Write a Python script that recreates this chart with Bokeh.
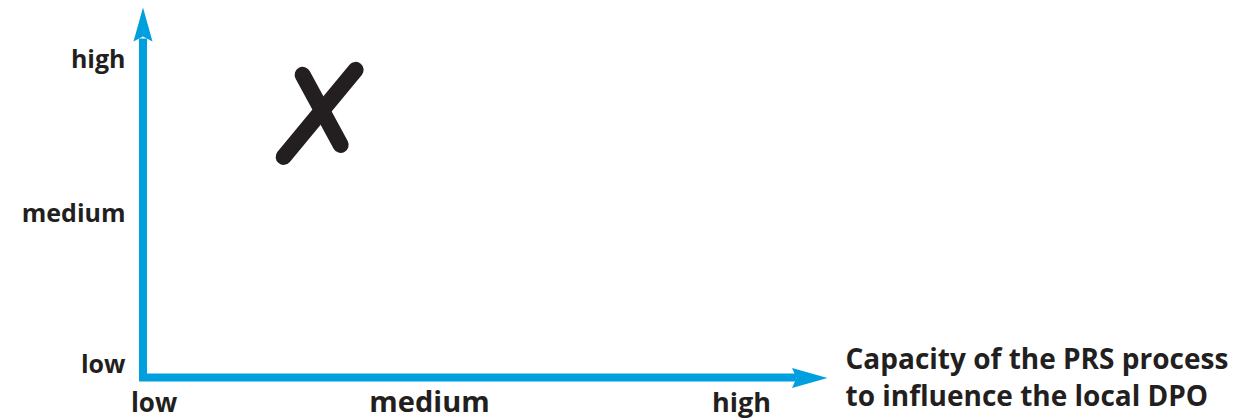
from bokeh.plotting import figure
from bokeh.models import Range1d, ColumnDataSource
from bokeh.core.properties import value
from bokeh.embed import file_html
from bokeh.resources import INLINE

# ---- data ----
levels = ["low", "medium", "high"]
level_values = [0, 1, 2]
x_title = ["Capacity of the PRS process", "to influence the local DPO"]
point_x = [0.57]   # capacity of the PRS process (low=0, medium=1, high=2)
point_y = [1.65]   # vertical dimension (low=0, medium=1, high=2)

# ---- styles / layout ----
BLUE = "#009FDD"
INK = "#231F20"
FONT = value("Open Sans")
W, H = 1240, 419
OX, OY = 0, 0                 # page offset of the canvas
PX_X0, PX_UX = 155.0, 291.5   # screen px of level 0 and px per level (x)
PX_Y0, PX_UY = 362.0, 152.5   # screen px of level 0 and px per level (y)


def dx(px):
    return (px - PX_X0) / PX_UX


def dy(py):
    return (PX_Y0 - py) / PX_UY


def ux(d):
    return d / PX_UX


def uy(d):
    return -d / PX_UY


p = figure(width=W, height=H,
           x_range=Range1d(dx(OX), dx(OX + W)),
           y_range=Range1d(dy(OY + H), dy(OY)),
           x_axis_type=None, y_axis_type=None,
           output_backend="svg", toolbar_location=None,
           min_border=0, min_border_left=0, min_border_right=0,
           min_border_top=0, min_border_bottom=0)
p.grid.visible = False
p.outline_line_color = None
p.background_fill_color = "white"
p.border_fill_color = "white"

# axis arrows
p.line(x=[dx(142.5), dx(142.5), dx(796)], y=[dy(38), dy(377), dy(377)],
       line_width=8, line_color=BLUE, line_join="miter")
p.patch(x=[dx(142.5), dx(152), dx(142.5), dx(133)],
        y=[dy(7), dy(41), dy(36), dy(41)], fill_color=BLUE, line_color=None)
p.patch(x=[dx(827), dx(791.5), dx(796), dx(791.5)],
        y=[dy(377.5), dy(387.5), dy(377.5), dy(367.5)], fill_color=BLUE, line_color=None)

# y level labels
ysrc = ColumnDataSource(dict(x=[dx(125)] * 3, y=level_values, t=levels, yo=[0, 2, 0]))
p.text(x="x", y="y", text="t", source=ysrc, y_offset="yo",
       text_align="right", text_baseline="middle",
       text_font=FONT, text_font_style="bold", text_font_size="25px", text_color=INK)

# x level labels
xsizes = ["26px", "29px", "27px"]
xoff = [-0.005, -0.06, 0.01]
xsrc = ColumnDataSource(dict(x=[v + o for v, o in zip(level_values, xoff)],
                             y=[dy(401.5), dy(400), dy(401)], t=levels, s=xsizes))
p.text(x="x", y="y", text="t", source=xsrc, text_align="center", text_baseline="middle",
       text_font=FONT, text_font_style="bold", text_font_size="s", text_color=INK)

# x-axis title
tsrc = ColumnDataSource(dict(x=[dx(845)] * 2, y=[dy(357), dy(394)], t=x_title))
p.text(x="x", y="y", text="t", source=tsrc, text_align="left", text_baseline="middle",
       text_font=FONT, text_font_style="bold", text_font_size="28px", text_color=INK)

# the hand-drawn X marking the position
cx, cy = point_x[0], point_y[0]
p.segment(x0=[cx + ux(34), cx + ux(-19)], y0=[cy + uy(-41), cy + uy(-36)],
          x1=[cx + ux(-38), cx + ux(19)], y1=[cy + uy(46), cy + uy(34)],
          line_width=16, line_color=INK, line_cap="round")

open("out.html", "w").write(file_html(p, INLINE))
